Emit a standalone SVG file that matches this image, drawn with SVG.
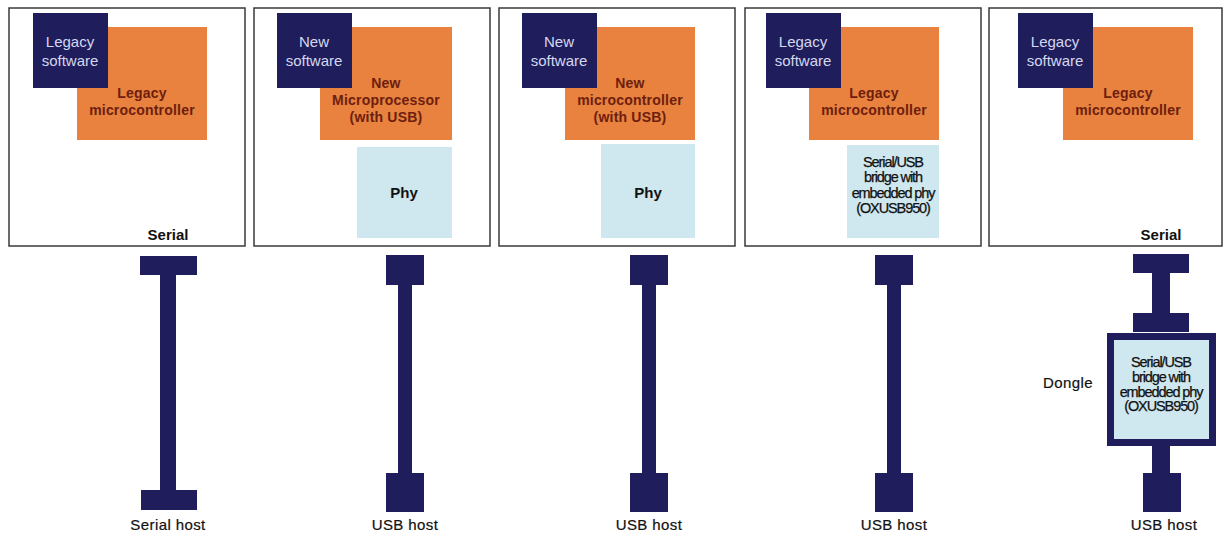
<svg xmlns="http://www.w3.org/2000/svg" width="1224" height="535" viewBox="0 0 1224 535">
<style>
.panel{fill:#fff;stroke:#3a3a3a;stroke-width:1.5}
.sw{fill:#1f1d5b}
.mc{fill:#e8823e}
.phy{fill:#cfe7ee}
.cab{fill:#1f1d5b}
.tw{font-family:"Liberation Sans",Arial,sans-serif;font-size:15px;fill:#d4d8ee;text-anchor:middle}
.to{font-family:"Liberation Sans",Arial,sans-serif;font-size:14px;font-weight:bold;fill:#6e1e0e;text-anchor:middle;letter-spacing:0.2px}
.tp{font-family:"Liberation Sans",Arial,sans-serif;font-size:15px;font-weight:bold;fill:#111;text-anchor:middle}
.tb{font-family:"Liberation Sans",Arial,sans-serif;font-size:14.5px;fill:#111;text-anchor:middle;letter-spacing:-1.1px;stroke:#111;stroke-width:0.25}
.lab{font-family:"Liberation Sans",Arial,sans-serif;font-size:15px;fill:#111;text-anchor:middle;letter-spacing:0.4px;stroke:#111;stroke-width:0.2}
.labb{font-family:"Liberation Sans",Arial,sans-serif;font-size:15px;font-weight:bold;fill:#111;text-anchor:middle}
</style>
<rect width="1224" height="535" fill="#fff"/>

<g id="panel1">
<rect class="panel" x="9" y="8" width="236" height="238"/>
<rect class="mc" x="77" y="27" width="130" height="113"/>
<rect class="sw" x="33" y="13" width="75" height="75"/>
<text class="tw" x="70" y="47">Legacy</text>
<text class="tw" x="70" y="66">software</text>
<text class="to" x="142" y="98">Legacy</text>
<text class="to" x="142" y="115">microcontroller</text>
<text class="labb" x="168" y="240">Serial</text>
</g>

<g id="panel2">
<rect class="panel" x="254" y="8" width="236" height="238"/>
<rect class="mc" x="320" y="27" width="132" height="113"/>
<rect class="sw" x="277" y="13" width="75" height="75"/>
<rect class="phy" x="357" y="147" width="95" height="91"/>
<text class="tw" x="314" y="47">New</text>
<text class="tw" x="314" y="66">software</text>
<text class="to" x="386" y="88">New</text>
<text class="to" x="386" y="105">Microprocessor</text>
<text class="to" x="386" y="122">(with USB)</text>
<text class="tp" x="404" y="198">Phy</text>
</g>

<g id="panel3">
<rect class="panel" x="499" y="8" width="236" height="238"/>
<rect class="mc" x="565" y="27" width="130" height="113"/>
<rect class="sw" x="522" y="13" width="75" height="75"/>
<rect class="phy" x="601" y="144" width="94" height="94"/>
<text class="tw" x="559" y="47">New</text>
<text class="tw" x="559" y="66">software</text>
<text class="to" x="630" y="88">New</text>
<text class="to" x="630" y="105">microcontroller</text>
<text class="to" x="630" y="122">(with USB)</text>
<text class="tp" x="648" y="198">Phy</text>
</g>

<g id="panel4">
<rect class="panel" x="745" y="8" width="236" height="238"/>
<rect class="mc" x="809" y="27" width="130" height="113"/>
<rect class="sw" x="766" y="13" width="75" height="75"/>
<rect class="phy" x="847" y="145" width="92" height="93"/>
<text class="tw" x="803" y="47">Legacy</text>
<text class="tw" x="803" y="66">software</text>
<text class="to" x="874" y="98">Legacy</text>
<text class="to" x="874" y="115">microcontroller</text>
<text class="tb" x="893" y="167">Serial/USB</text>
<text class="tb" x="893" y="182">bridge with</text>
<text class="tb" x="893" y="198">embedded phy</text>
<text class="tb" x="893" y="213">(OXUSB950)</text>
</g>

<g id="panel5">
<rect class="panel" x="989" y="8" width="233" height="238"/>
<rect class="mc" x="1063" y="27" width="130" height="113"/>
<rect class="sw" x="1018" y="13" width="75" height="75"/>
<text class="tw" x="1055" y="47">Legacy</text>
<text class="tw" x="1055" y="66">software</text>
<text class="to" x="1128" y="98">Legacy</text>
<text class="to" x="1128" y="115">microcontroller</text>
<text class="labb" x="1161" y="240">Serial</text>
</g>

<g id="connectors">
<g id="cable1">
<rect class="cab" x="140" y="256" width="57" height="19"/>
<rect class="cab" x="160" y="274" width="16" height="217"/>
<rect class="cab" x="141" y="490" width="56" height="20"/>
</g>
<g id="cable2">
<rect class="cab" x="386" y="255" width="38" height="30"/>
<rect class="cab" x="398" y="284" width="14" height="190"/>
<rect class="cab" x="386" y="473" width="38" height="39"/>
</g>
<g id="cable3">
<rect class="cab" x="630" y="255" width="38" height="30"/>
<rect class="cab" x="642" y="284" width="14" height="190"/>
<rect class="cab" x="630" y="473" width="38" height="39"/>
</g>
<g id="cable4">
<rect class="cab" x="875" y="255" width="38" height="30"/>
<rect class="cab" x="887" y="284" width="14" height="190"/>
<rect class="cab" x="875" y="473" width="38" height="39"/>
</g>
<g id="cable5">
<rect class="cab" x="1133" y="254" width="56" height="19"/>
<rect class="cab" x="1152" y="272" width="18" height="42"/>
<rect class="cab" x="1133" y="313" width="56" height="19"/>
<rect class="cab" x="1152" y="445" width="18" height="29"/>
<rect class="cab" x="1143" y="473" width="38" height="39"/>
</g>
</g>

<g id="dongle">
<rect class="sw" x="1107" y="333" width="109" height="113"/>
<rect class="phy" x="1114" y="340" width="95" height="99"/>
<text class="tb" x="1161" y="367">Serial/USB</text>
<text class="tb" x="1161" y="382">bridge with</text>
<text class="tb" x="1161" y="397">embedded phy</text>
<text class="tb" x="1161" y="411">(OXUSB950)</text>
<text class="lab" x="1068" y="388">Dongle</text>
</g>

<g id="hostlabels">
<text class="lab" x="168" y="530">Serial host</text>
<text class="lab" x="405" y="530">USB host</text>
<text class="lab" x="649" y="530">USB host</text>
<text class="lab" x="894" y="530">USB host</text>
<text class="lab" x="1164" y="530">USB host</text>
</g>
</svg>
